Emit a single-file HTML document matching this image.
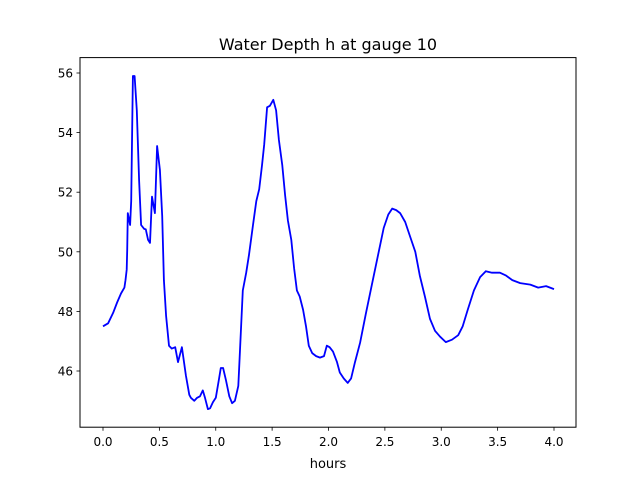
<!DOCTYPE html>
<html><head><meta charset="utf-8"><style>
html,body{margin:0;padding:0;background:#fff;}
svg text{font-family:"DejaVu Sans","Liberation Sans",sans-serif;}
</style></head><body>
<svg id="chart" width="640" height="480" viewBox="0 0 640 480">
<rect width="640" height="480" fill="#fff"/>
<text x="328" y="50" font-size="16" text-anchor="middle">Water Depth h at gauge 10</text>
<g id="plot"></g>
<rect x="80" y="57.6" width="496" height="369.6" fill="none" stroke="#000" stroke-width="1"/>
<text x="328" y="468" font-size="13" text-anchor="middle">hours</text>
</svg>
<script>
const hours=[0,0.045,0.09,0.125,0.16,0.19,0.2,0.21,0.215,0.22,0.24,0.25,0.265,0.28,0.3,0.32,0.338,0.365,0.38,0.4,0.417,0.435,0.46,0.48,0.505,0.525,0.54,0.56,0.585,0.61,0.64,0.665,0.7,0.735,0.765,0.78,0.81,0.835,0.86,0.885,0.905,0.93,0.95,0.975,1.0,1.03,1.045,1.065,1.09,1.12,1.145,1.17,1.2,1.215,1.24,1.27,1.295,1.33,1.36,1.385,1.41,1.43,1.455,1.48,1.51,1.535,1.56,1.59,1.615,1.64,1.67,1.695,1.72,1.745,1.775,1.8,1.825,1.855,1.89,1.925,1.96,1.985,2.01,2.04,2.075,2.1,2.135,2.17,2.2,2.235,2.28,2.33,2.385,2.44,2.49,2.53,2.565,2.6,2.635,2.68,2.72,2.77,2.81,2.855,2.9,2.945,2.99,3.04,3.095,3.15,3.19,3.235,3.29,3.345,3.395,3.45,3.52,3.575,3.63,3.7,3.79,3.86,3.93,4.0];
const depth=[47.5,47.6,47.95,48.3,48.6,48.8,49.05,49.4,50.05,51.3,50.9,51.7,55.9,55.9,54.75,52.4,50.9,50.77,50.75,50.4,50.3,51.85,51.3,53.55,52.75,51.2,49.05,47.85,46.85,46.75,46.8,46.3,46.8,45.85,45.2,45.1,45.0,45.1,45.15,45.35,45.1,44.72,44.75,44.95,45.1,45.75,46.1,46.1,45.7,45.15,44.92,45.0,45.5,46.7,48.7,49.3,49.9,50.9,51.7,52.1,52.9,53.6,54.85,54.9,55.1,54.75,53.75,52.9,51.9,51.05,50.4,49.45,48.7,48.5,48.05,47.5,46.85,46.6,46.5,46.45,46.5,46.85,46.8,46.65,46.3,45.95,45.75,45.6,45.75,46.3,46.95,47.9,48.9,49.9,50.8,51.25,51.45,51.4,51.3,51.0,50.55,50.0,49.2,48.5,47.75,47.35,47.15,46.97,47.05,47.2,47.5,48.05,48.7,49.15,49.35,49.3,49.3,49.2,49.05,48.95,48.9,48.8,48.85,48.75];
const xTicks=[0,0.5,1.0,1.5,2.0,2.5,3.0,3.5,4.0];
const xTickLabels=["0.0","0.5","1.0","1.5","2.0","2.5","3.0","3.5","4.0"];
const yTicks=[46,48,50,52,54,56];
const yTickLabels=["46","48","50","52","54","56"];

const NS="http://www.w3.org/2000/svg";
const g=document.getElementById('plot');
function xs(v){return 103+v*112.75;}
function ys(v){return 371-(v-46)*29.8;}
function mk(t,a){const e=document.createElementNS(NS,t);for(const k in a)e.setAttribute(k,a[k]);g.appendChild(e);return e;}
xTicks.forEach((t,i)=>{
  const x=xs(t);
  const l=mk('line',{x1:x,x2:x,y1:427.2,y2:430.7,stroke:'#000','stroke-width':0.8});
  
  
  const tx=mk('text',{x:x,y:446,'font-size':12,'text-anchor':'middle'});
  tx.textContent=xTickLabels[i];
  
  
});
yTicks.forEach((t,i)=>{
  const y=ys(t);
  const l=mk('line',{x1:76.5,x2:80,y1:y,y2:y,stroke:'#000','stroke-width':0.8});
  
  
  const tx=mk('text',{x:73,y:y+4.5,'font-size':12,'text-anchor':'end'});
  tx.textContent=yTickLabels[i];
  
  
});
const pts=hours.map((h,i)=>xs(h).toFixed(1)+','+ys(depth[i]).toFixed(1)).join(' ');
const line=mk('polyline',{points:pts,fill:'none',stroke:'#0000ff','stroke-width':1.8,'stroke-linejoin':'round'});


</script>
</body></html>
